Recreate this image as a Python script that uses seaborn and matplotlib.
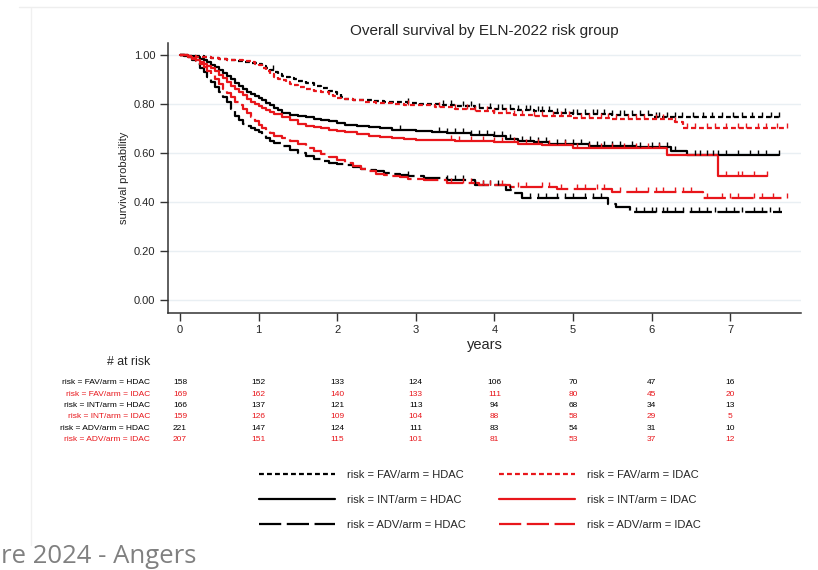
import numpy as np
import pandas as pd
import seaborn as sns
import matplotlib.pyplot as plt
from matplotlib.path import Path
from matplotlib.lines import Line2D
import matplotlib.transforms as mtransforms

# Overall survival by ELN-2022 risk group (KM curves)

RED = '#e8161b'
BLACK = '#000000'

groups = ['risk = FAV/arm = HDAC', 'risk = INT/arm = HDAC', 'risk = ADV/arm = HDAC',
          'risk = FAV/arm = IDAC', 'risk = INT/arm = IDAC', 'risk = ADV/arm = IDAC']

# step curves: time (years) and survival after each step
t_fav_hdac = [0, 0.1, 0.2, 0.3, 0.4, 0.5, 0.6, 0.7, 0.8, 0.9, 1.0, 1.05, 1.1, 1.15, 1.2, 1.25, 1.3, 1.35, 1.4, 1.45,
              1.5, 1.6, 1.7, 1.8, 1.9, 1.95, 2.0, 2.05, 2.1, 2.2, 2.3, 2.45, 2.6, 2.75, 2.9, 3.05, 3.2, 3.35, 3.5,
              3.75, 4.0, 4.25, 4.5, 4.75, 5.0, 5.5, 6.0, 7.62]
s_fav_hdac = [1.0, 0.997, 0.994, 0.99, 0.987, 0.984, 0.98, 0.977, 0.973, 0.968, 0.962, 0.955, 0.948, 0.94, 0.93,
              0.922, 0.915, 0.91, 0.905, 0.9, 0.895, 0.885, 0.875, 0.865, 0.855, 0.848, 0.84, 0.83, 0.822, 0.818,
              0.815, 0.812, 0.81, 0.807, 0.805, 0.802, 0.8, 0.795, 0.79, 0.785, 0.78, 0.775, 0.77, 0.765, 0.76,
              0.755, 0.748, 0.748]

t_fav_idac = [0, 0.1, 0.2, 0.3, 0.4, 0.5, 0.6, 0.7, 0.8, 0.9, 0.95, 1.0, 1.05, 1.1, 1.15, 1.2, 1.25, 1.3, 1.35, 1.4,
              1.45, 1.5, 1.6, 1.7, 1.8, 1.9, 1.95, 2.0, 2.05, 2.2, 2.35, 2.5, 2.7, 2.85, 3.0, 3.25, 3.5, 3.75, 4.0,
              4.25, 4.5, 5.0, 5.5, 6.3, 6.4, 7.72]
s_fav_idac = [1.0, 0.996, 0.993, 0.99, 0.986, 0.983, 0.98, 0.978, 0.975, 0.971, 0.965, 0.958, 0.948, 0.935, 0.922,
              0.91, 0.902, 0.896, 0.89, 0.883, 0.876, 0.87, 0.862, 0.855, 0.848, 0.84, 0.832, 0.825, 0.82, 0.815,
              0.81, 0.806, 0.8, 0.797, 0.795, 0.788, 0.78, 0.772, 0.765, 0.757, 0.75, 0.742, 0.738, 0.728, 0.703,
              0.703]

t_int_hdac = [0, 0.1, 0.2, 0.25, 0.3, 0.35, 0.4, 0.45, 0.5, 0.55, 0.6, 0.65, 0.7, 0.75, 0.8, 0.85, 0.9, 0.95, 1.0,
              1.05, 1.1, 1.15, 1.2, 1.25, 1.3, 1.4, 1.5, 1.6, 1.7, 1.8, 1.9, 2.0, 2.1, 2.25, 2.4, 2.55, 2.7, 2.85,
              3.0, 3.2, 3.4, 3.7, 4.0, 4.15, 4.3, 4.5, 4.7, 5.2, 5.8, 6.25, 6.45, 7.62]
s_int_hdac = [1.0, 0.995, 0.99, 0.985, 0.978, 0.97, 0.96, 0.95, 0.94, 0.928, 0.915, 0.9, 0.885, 0.872, 0.86, 0.85,
              0.84, 0.832, 0.825, 0.815, 0.805, 0.795, 0.785, 0.775, 0.765, 0.757, 0.75, 0.745, 0.74, 0.735, 0.73,
              0.722, 0.715, 0.71, 0.705, 0.7, 0.695, 0.692, 0.69, 0.685, 0.68, 0.674, 0.668, 0.658, 0.648, 0.643,
              0.638, 0.63, 0.625, 0.61, 0.592, 0.592]

t_int_idac = [0, 0.1, 0.15, 0.2, 0.25, 0.3, 0.35, 0.4, 0.45, 0.5, 0.55, 0.6, 0.65, 0.7, 0.75, 0.8, 0.85, 0.9, 0.95,
              1.0, 1.05, 1.1, 1.15, 1.2, 1.3, 1.4, 1.5, 1.6, 1.7, 1.8, 1.9, 2.0, 2.1, 2.25, 2.4, 2.55, 2.7, 2.85,
              3.0, 3.5, 4.0, 4.3, 4.6, 5.0, 6.2, 6.84, 7.47]
s_int_idac = [1.0, 0.993, 0.987, 0.98, 0.973, 0.965, 0.955, 0.945, 0.933, 0.92, 0.905, 0.89, 0.875, 0.86, 0.847,
              0.835, 0.822, 0.81, 0.8, 0.79, 0.782, 0.775, 0.767, 0.76, 0.747, 0.733, 0.72, 0.712, 0.705, 0.7,
              0.695, 0.69, 0.685, 0.677, 0.67, 0.665, 0.66, 0.656, 0.652, 0.648, 0.645, 0.638, 0.632, 0.622, 0.59,
              0.505, 0.505]

t_adv_hdac = [0, 0.05, 0.1, 0.15, 0.2, 0.25, 0.3, 0.35, 0.4, 0.45, 0.5, 0.55, 0.6, 0.65, 0.7, 0.75, 0.8, 0.85, 0.9,
              0.95, 1.0, 1.05, 1.1, 1.15, 1.2, 1.3, 1.4, 1.5, 1.6, 1.7, 1.8, 1.9, 2.0, 2.1, 2.2, 2.3, 2.4, 2.5, 2.6,
              2.7, 2.8, 2.9, 3.1, 3.4, 3.75, 4.15, 4.25, 4.35, 5.45, 5.55, 5.72, 7.66]
s_adv_hdac = [1.0, 0.997, 0.99, 0.978, 0.965, 0.948, 0.93, 0.91, 0.89, 0.87, 0.85, 0.83, 0.81, 0.78, 0.75, 0.735,
              0.72, 0.71, 0.70, 0.692, 0.685, 0.672, 0.66, 0.65, 0.64, 0.627, 0.613, 0.6, 0.587, 0.575, 0.567, 0.56,
              0.555, 0.55, 0.542, 0.535, 0.53, 0.525, 0.52, 0.515, 0.51, 0.505, 0.498, 0.49, 0.47, 0.45, 0.435,
              0.418, 0.39, 0.38, 0.36, 0.36]

t_adv_idac = [0, 0.1, 0.15, 0.2, 0.25, 0.3, 0.35, 0.4, 0.45, 0.5, 0.55, 0.6, 0.65, 0.7, 0.75, 0.8, 0.85, 0.9, 0.95,
              1.0, 1.05, 1.1, 1.15, 1.2, 1.3, 1.4, 1.5, 1.6, 1.7, 1.8, 1.9, 2.0, 2.1, 2.2, 2.3, 2.4, 2.5, 2.6, 2.7,
              2.8, 2.9, 3.1, 3.4, 3.8, 4.2, 4.8, 5.49, 6.65, 7.72]
s_adv_idac = [1.0, 0.99, 0.983, 0.975, 0.963, 0.95, 0.935, 0.92, 0.9, 0.88, 0.862, 0.845, 0.828, 0.81, 0.795, 0.78,
              0.762, 0.745, 0.73, 0.715, 0.702, 0.69, 0.68, 0.67, 0.66, 0.648, 0.635, 0.622, 0.61, 0.597, 0.585,
              0.572, 0.56, 0.547, 0.535, 0.525, 0.515, 0.51, 0.505, 0.5, 0.495, 0.49, 0.478, 0.468, 0.46, 0.455,
              0.442, 0.415, 0.415]

# censoring times
c_fav_hdac = [1.18, 2.9, 3.35, 3.45, 3.6, 3.7, 3.8, 3.95, 4.05, 4.1, 4.2, 4.3, 4.4, 4.45, 4.55, 4.6, 4.7, 4.8, 4.9,
              5.0, 5.05, 5.15, 5.25, 5.3, 5.4, 5.5, 5.6, 5.65, 5.75, 5.85, 5.95, 6.05, 6.1, 6.2, 6.3, 6.39, 6.52,
              6.65, 6.77, 6.9, 7.03, 7.15, 7.28, 7.41, 7.52, 7.62]
c_fav_idac = [2.9, 3.3, 3.5, 3.65, 3.75, 3.9, 4.0, 4.15, 4.25, 4.35, 4.5, 4.6, 4.75, 4.85, 4.95, 5.1, 5.2, 5.35,
              5.45, 5.55, 5.7, 5.8, 5.9, 6.05, 6.15, 6.3, 6.45, 6.55, 6.7, 6.8, 6.95, 7.1, 7.2, 7.35, 7.45, 7.6, 7.72]
c_int_hdac = [2.8, 3.3, 3.4, 3.5, 3.6, 3.7, 3.8, 3.9, 4.0, 4.1, 4.2, 4.35, 4.45, 4.55, 4.65, 4.8, 4.9, 5.0, 5.1,
              5.2, 5.3, 5.4, 5.5, 5.6, 5.75, 5.85, 6.0, 6.1, 6.2, 6.3, 6.55, 6.62, 6.7, 6.78, 6.85, 6.95, 7.1,
              7.25, 7.35, 7.45, 7.62]
c_int_idac = [3.45, 3.55, 3.7, 3.85, 4.0, 4.1, 4.25, 4.4, 4.55, 4.7, 4.9, 5.05, 5.2, 5.35, 5.5, 5.65, 5.8, 5.95,
              6.1, 6.95, 7.1, 7.15, 7.3, 7.47]
c_adv_hdac = [2.9, 3.4, 3.5, 3.6, 3.75, 3.85, 3.95, 4.05, 4.2, 4.45, 4.55, 4.65, 4.8, 4.9, 5.0, 5.15, 5.25, 5.35,
              5.8, 5.9, 6.0, 6.05, 6.15, 6.2, 6.3, 6.4, 6.5, 6.6, 6.7, 6.8, 6.95, 7.05, 7.15, 7.3, 7.4, 7.5, 7.62]
c_adv_idac = [3.45, 3.6, 3.7, 3.85, 3.95, 4.1, 4.3, 4.4, 4.6, 4.7, 4.85, 5.05, 5.15, 5.3, 5.4, 5.6, 5.8, 5.95,
              6.05, 6.15, 6.3, 6.4, 6.5, 6.7, 6.9, 7.0, 7.1, 7.3, 7.4, 7.55, 7.72]

# numbers at risk (rows in table order)
risk_times = [0, 1, 2, 3, 4, 5, 6, 7]
risk_rows = ['risk = FAV/arm = HDAC', 'risk = FAV/arm = IDAC', 'risk = INT/arm = HDAC',
             'risk = INT/arm = IDAC', 'risk = ADV/arm = HDAC', 'risk = ADV/arm = IDAC']
n_fav_hdac = [158, 152, 133, 124, 106, 70, 47, 16]
n_fav_idac = [169, 162, 140, 133, 111, 80, 45, 20]
n_int_hdac = [166, 137, 121, 113, 94, 68, 34, 13]
n_int_idac = [159, 126, 109, 104, 88, 58, 29, 5]
n_adv_hdac = [221, 147, 124, 111, 83, 54, 31, 10]
n_adv_idac = [207, 151, 115, 101, 81, 53, 37, 12]
risk_numbers = [n_fav_hdac, n_fav_idac, n_int_hdac, n_int_idac, n_adv_hdac, n_adv_idac]

curves = {
    'risk = FAV/arm = HDAC': (t_fav_hdac, s_fav_hdac, c_fav_hdac),
    'risk = INT/arm = HDAC': (t_int_hdac, s_int_hdac, c_int_hdac),
    'risk = ADV/arm = HDAC': (t_adv_hdac, s_adv_hdac, c_adv_hdac),
    'risk = FAV/arm = IDAC': (t_fav_idac, s_fav_idac, c_fav_idac),
    'risk = INT/arm = IDAC': (t_int_idac, s_int_idac, c_int_idac),
    'risk = ADV/arm = IDAC': (t_adv_idac, s_adv_idac, c_adv_idac),
}

palette = {g: (BLACK if 'HDAC' in g else RED) for g in groups}
short = (2.2, 1.4)
long_ = (10, 2.5)
dashes = {}
for g in groups:
    if 'FAV' in g:
        dashes[g] = short
    elif 'INT' in g:
        dashes[g] = ''
    else:
        dashes[g] = long_

df = pd.concat([pd.DataFrame({'years': t, 'surv': s, 'group': g})
                for g, (t, s, c) in curves.items()], ignore_index=True)

sns.set_style('ticks')
plt.rcParams['font.family'] = ['Liberation Sans', 'DejaVu Sans']

fig = plt.figure(figsize=(8.18, 5.70), dpi=100)
ax = fig.add_axes([168 / 818, 1 - 312.7 / 570, 633 / 818, 269.7 / 570])

# faint grid lines
for yv in [0, 0.2, 0.4, 0.6, 0.8, 1.0]:
    ax.axhline(yv, color='#e9eff3', lw=1, zorder=0)

sns.lineplot(data=df, x='years', y='surv', hue='group', style='group', hue_order=groups, style_order=groups,
             palette=palette, dashes=dashes, estimator=None, errorbar=None, sort=False,
             drawstyle='steps-post', linewidth=1.6, ax=ax)

# censor marks: little ticks standing on the curve
tick_marker = Path([(0, 0), (0, 1)])
for g, (t, s, c) in curves.items():
    t = np.asarray(t)
    s = np.asarray(s)
    idx = np.searchsorted(t, c, side='right') - 1
    ax.plot(c, s[idx], linestyle='none', marker=tick_marker, markersize=6.5,
            markeredgewidth=1.0, color=palette[g], zorder=3)

ax.set_xlim(-0.152, 7.9)
ax.set_ylim(-0.052, 1.049)
ax.set_xticks(risk_times)
ax.set_yticks([0, 0.2, 0.4, 0.6, 0.8, 1.0])
ax.set_yticklabels(['0.00', '0.20', '0.40', '0.60', '0.80', '1.00'])
ax.tick_params(axis='both', labelsize=8, length=6, width=1, color='#333333', pad=3)
sns.despine(ax=ax)
for sp in ['left', 'bottom']:
    ax.spines[sp].set_color('#333333')
    ax.spines[sp].set_linewidth(1.1)

ax.set_xlabel('years', fontsize=10.5)
ax.xaxis.set_label_coords(0.5, -0.092)
ax.set_ylabel('survival probability', fontsize=8)
ax.yaxis.set_label_coords(-0.062, 0.5)

fig.text(484.5 / 818, 1 - 30.7 / 570, 'Overall survival by ELN-2022 risk group', ha='center', va='center',
         fontsize=11)

# legend below the table
sns.move_legend(ax, 'center', bbox_to_anchor=(480 / 818, 1 - 500 / 570), bbox_transform=fig.transFigure,
                ncol=2, title=None, frameon=False, fontsize=8, handlelength=6.8, handletextpad=1.1,
                columnspacing=3.0, labelspacing=1.35)

# number at risk table
fig.text(150 / 818, 1 - 361.7 / 570, '# at risk', ha='right', va='center', fontsize=8.8)
trans = mtransforms.blended_transform_factory(ax.transData, fig.transFigure)
row_y = [382.7, 394.1, 405.5, 416.9, 428.3, 439.7]
for label, nums, py in zip(risk_rows, risk_numbers, row_y):
    col = RED if 'IDAC' in label else BLACK
    fig.text(150 / 818, 1 - py / 570, label, ha='right', va='center', fontsize=6, color=col)
    for tx, n in zip(risk_times, nums):
        ax.text(tx, 1 - py / 570, str(n), transform=trans, ha='center', va='center', fontsize=6, color=col)

# slide frame and footer
fig.add_artist(Line2D([19 / 818, 1], [1 - 7 / 570] * 2, color='#eeeeee', lw=1))
fig.add_artist(Line2D([31 / 818] * 2, [1 - 8 / 570, 1 - 545 / 570], color='#f0f0f0', lw=1))
fig.text(0.001, 0.012, 're 2024 - Angers', ha='left', va='baseline', fontsize=18.5, color='#808080',
         family=['Open Sans', 'DejaVu Sans'])

plt.savefig('out.png', dpi=100)
plt.close()
